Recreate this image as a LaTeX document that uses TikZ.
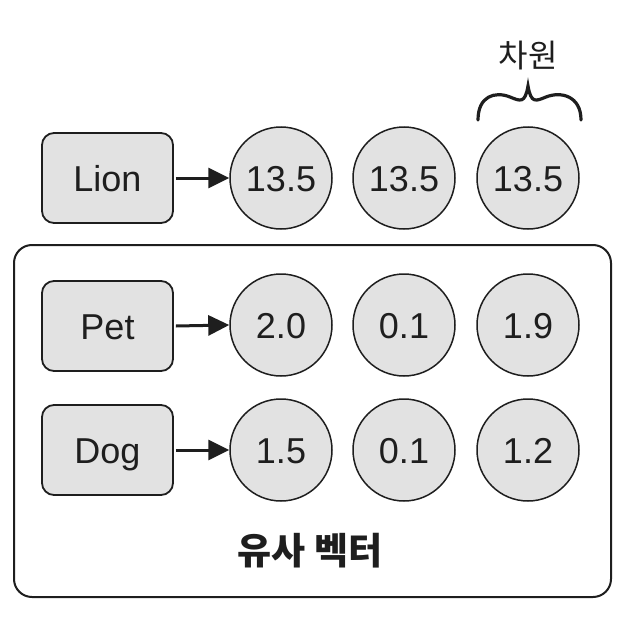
\documentclass[tikz,border=0pt]{standalone}
\usepackage{fontspec}
\setmainfont{Liberation Sans}
\newfontfamily\kr{Noto Sans CJK KR}
\usetikzlibrary{arrows.meta}
\definecolor{ink}{HTML}{1E1E1E}
\definecolor{cellfill}{HTML}{E2E2E2}
\begin{document}
\begin{tikzpicture}[x=1pt,y=-1pt,
  wordbox/.style={draw=ink, line width=1.8pt, fill=cellfill, rounded corners=12pt,
    minimum width=131pt, minimum height=90pt, inner sep=0pt,
    text height=26pt, text depth=0pt,
    font=\fontsize{36}{40}\selectfont, text=ink},
  valcirc/.style={draw=ink, line width=1.5pt, fill=cellfill, circle,
    minimum size=102pt, inner sep=0pt, text height=26pt, text depth=0pt,
    font=\fontsize{36}{40}\selectfont, text=ink},
  maparrow/.style={draw=ink, line width=3pt, -{Triangle[length=21pt,width=20pt]}}
]
\useasboundingbox (0,0) rectangle (620,626);

% group frame
\node[draw=ink, line width=2pt, rounded corners=18pt, minimum width=597pt, minimum height=352pt, inner sep=0pt] (frame) at (312.5,421) {};

% Lion row
\node[wordbox] (lion) at (107.5,178) {Lion};
\node[valcirc] (l1) at (281,178) {13.5};
\node[valcirc] (l2) at (404,178) {13.5};
\node[valcirc] (l3) at (528,178) {13.5};
\draw[maparrow] (lion.east) ++(2pt,0) coordinate (lionS) -- (l1.west);

% Pet row
\node[wordbox] (pet) at (107.5,326) {Pet};
\node[valcirc] (p1) at (281,325) {2.0};
\node[valcirc] (p2) at (404,325) {0.1};
\node[valcirc] (p3) at (528,325) {1.9};
\draw[maparrow] (pet.east) ++(2pt,0) coordinate (petS) -- (p1.west);

% Dog row
\node[wordbox] (dog) at (107.5,450) {Dog};
\node[valcirc] (d1) at (281,450) {1.5};
\node[valcirc] (d2) at (404,450) {0.1};
\node[valcirc] (d3) at (528,450) {1.2};
\draw[maparrow] (dog.east) ++(2pt,0) coordinate (dogS) -- (d1.west);

% label of the group
\node[font=\kr\bfseries\fontsize{37}{40}\selectfont, text=ink] (simlabel) at (310,551) {유사 벡터};

% dimension label and brace
\node[font=\kr\fontsize{32}{36}\selectfont, text=ink] (dimlabel) at (528,56) {차원};
\draw[ink, line width=3.2pt, line cap=round]
  (478,120) .. controls (478,96) and (495,91) .. (510,97)
  .. controls (520,101) and (525,104) .. (528,86)
  .. controls (531,104) and (536,101) .. (546,97)
  .. controls (561,91) and (581,96) .. (581,120);
\end{tikzpicture}
\end{document}
